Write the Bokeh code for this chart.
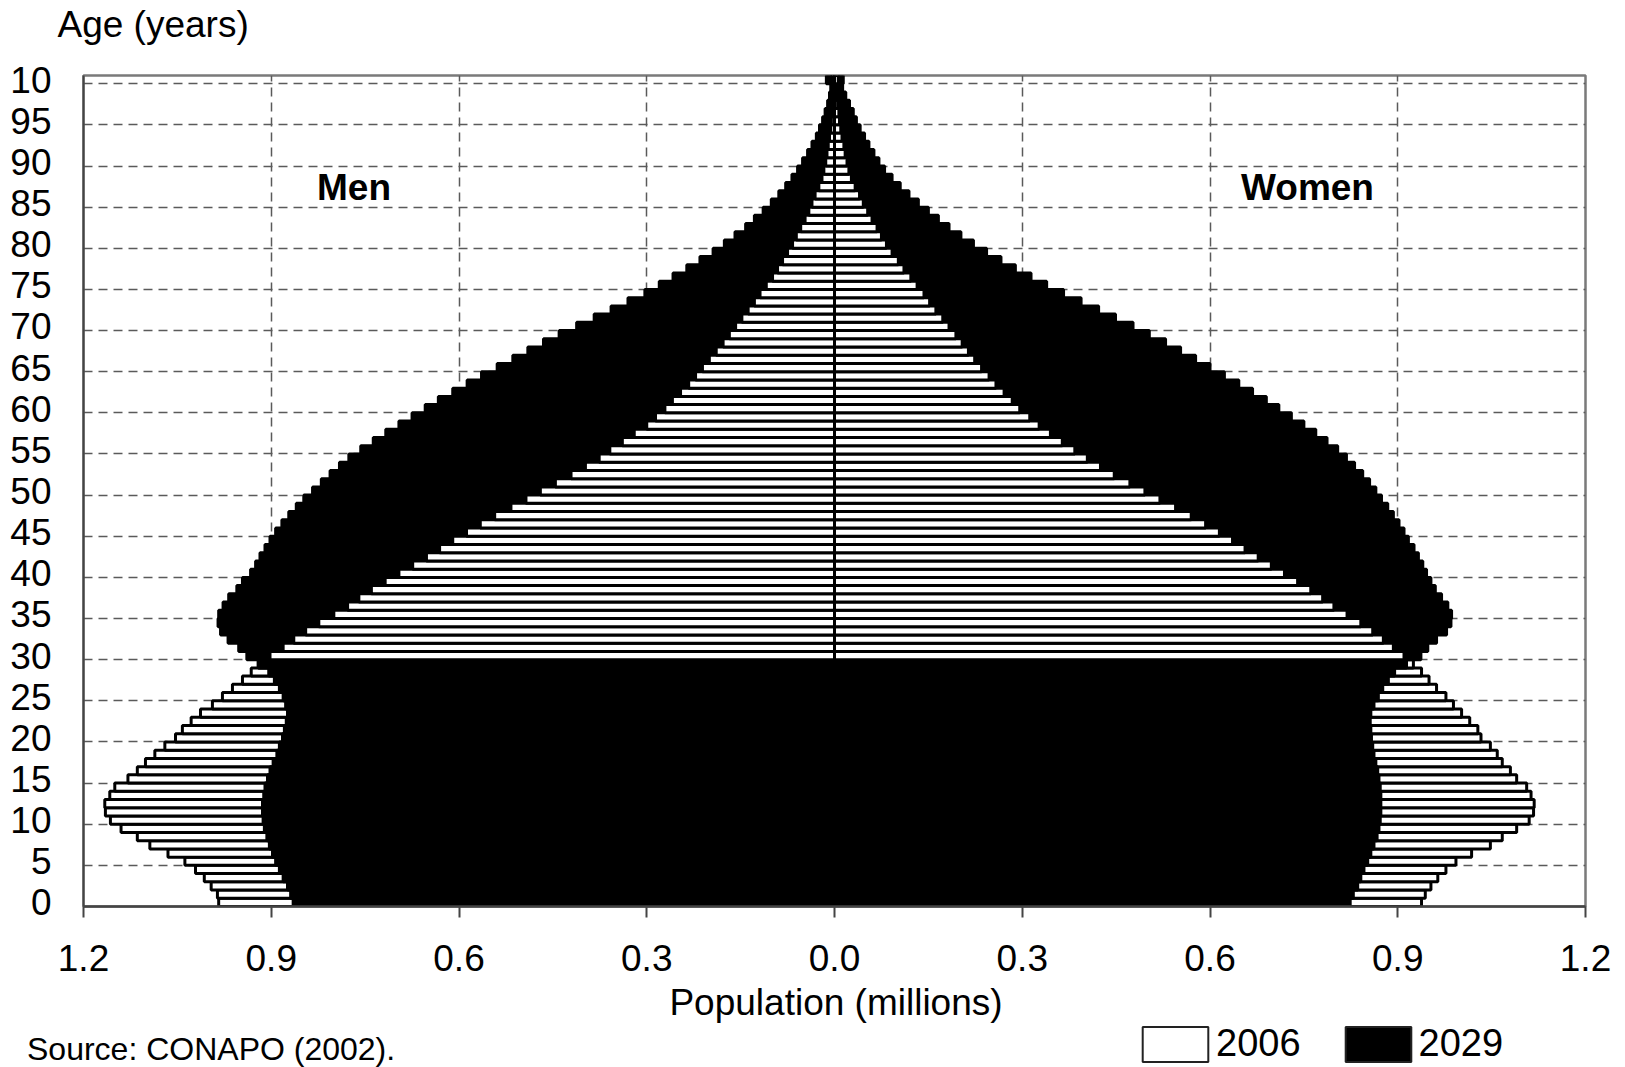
import numpy as np
from bokeh.plotting import figure
from bokeh.layouts import column
from bokeh.models import ColumnDataSource, FixedTicker, Label, Legend, LegendItem, Range1d
from bokeh.embed import file_html
from bokeh.resources import INLINE

# ---------------- data (population in millions, single ages 0..100) ----------------
ages = list(range(0, 101))

men_2006 = [0.984, 0.986, 0.996, 1.007, 1.021, 1.038, 1.065, 1.094, 1.114, 1.140,
            1.157, 1.165, 1.166, 1.158, 1.150, 1.129, 1.114, 1.101, 1.086, 1.070,
            1.053, 1.042, 1.028, 1.013, 0.994, 0.978, 0.962, 0.946, 0.932, 0.921,
            0.902, 0.881, 0.864, 0.845, 0.824, 0.800, 0.778, 0.760, 0.740, 0.718,
            0.696, 0.674, 0.652, 0.631, 0.610, 0.588, 0.566, 0.543, 0.517, 0.493,
            0.470, 0.446, 0.421, 0.398, 0.376, 0.359, 0.339, 0.320, 0.300, 0.286,
            0.271, 0.259, 0.246, 0.233, 0.222, 0.211, 0.200, 0.189, 0.178, 0.168,
            0.158, 0.148, 0.138, 0.128, 0.119, 0.109, 0.099, 0.091, 0.083, 0.075,
            0.067, 0.061, 0.054, 0.047, 0.041, 0.036, 0.031, 0.025, 0.020, 0.017,
            0.014, 0.012, 0.010, 0.008, 0.006, 0.005, 0.004, 0.003, 0.002, 0.002,
            0.004]

men_2029 = [0.865, 0.869, 0.874, 0.881, 0.887, 0.893, 0.898, 0.903, 0.907, 0.911,
            0.913, 0.914, 0.914, 0.912, 0.910, 0.906, 0.902, 0.897, 0.891, 0.887,
            0.882, 0.879, 0.876, 0.874, 0.877, 0.881, 0.887, 0.895, 0.904, 0.920,
            0.939, 0.952, 0.969, 0.981, 0.985, 0.984, 0.977, 0.968, 0.955, 0.946,
            0.933, 0.925, 0.918, 0.910, 0.902, 0.893, 0.883, 0.872, 0.860, 0.848,
            0.834, 0.820, 0.806, 0.791, 0.776, 0.757, 0.737, 0.717, 0.696, 0.675,
            0.654, 0.633, 0.610, 0.587, 0.564, 0.539, 0.514, 0.490, 0.465, 0.440,
            0.412, 0.384, 0.357, 0.330, 0.303, 0.280, 0.258, 0.236, 0.215, 0.194,
            0.176, 0.159, 0.142, 0.128, 0.114, 0.101, 0.089, 0.078, 0.068, 0.059,
            0.051, 0.043, 0.036, 0.029, 0.024, 0.019, 0.015, 0.011, 0.008, 0.006,
            0.013]

women_2006 = [0.938, 0.944, 0.953, 0.964, 0.977, 0.993, 1.018, 1.048, 1.067, 1.090,
              1.110, 1.117, 1.118, 1.113, 1.106, 1.090, 1.080, 1.067, 1.059, 1.048,
              1.033, 1.028, 1.015, 1.002, 0.989, 0.977, 0.962, 0.950, 0.938, 0.925,
              0.910, 0.893, 0.877, 0.860, 0.841, 0.819, 0.798, 0.780, 0.761, 0.740,
              0.719, 0.698, 0.677, 0.656, 0.636, 0.615, 0.593, 0.570, 0.545, 0.520,
              0.496, 0.472, 0.447, 0.425, 0.404, 0.384, 0.364, 0.345, 0.327, 0.312,
              0.296, 0.284, 0.271, 0.258, 0.247, 0.235, 0.224, 0.214, 0.204, 0.194,
              0.183, 0.173, 0.162, 0.152, 0.143, 0.132, 0.122, 0.111, 0.102, 0.092,
              0.083, 0.075, 0.068, 0.060, 0.053, 0.046, 0.040, 0.033, 0.027, 0.023,
              0.020, 0.017, 0.015, 0.012, 0.010, 0.008, 0.007, 0.005, 0.004, 0.003,
              0.006]

women_2029 = [0.824, 0.829, 0.836, 0.841, 0.846, 0.852, 0.857, 0.862, 0.867, 0.870,
              0.872, 0.873, 0.873, 0.873, 0.872, 0.870, 0.868, 0.865, 0.862, 0.860,
              0.858, 0.857, 0.856, 0.857, 0.862, 0.869, 0.876, 0.885, 0.895, 0.914,
              0.937, 0.948, 0.962, 0.978, 0.985, 0.986, 0.980, 0.970, 0.960, 0.953,
              0.946, 0.940, 0.933, 0.926, 0.917, 0.910, 0.902, 0.893, 0.884, 0.874,
              0.865, 0.855, 0.844, 0.831, 0.818, 0.804, 0.787, 0.769, 0.750, 0.730,
              0.710, 0.690, 0.668, 0.646, 0.623, 0.600, 0.577, 0.553, 0.529, 0.503,
              0.477, 0.449, 0.422, 0.394, 0.366, 0.339, 0.314, 0.289, 0.266, 0.243,
              0.222, 0.202, 0.183, 0.166, 0.150, 0.134, 0.119, 0.105, 0.092, 0.080,
              0.071, 0.063, 0.055, 0.048, 0.041, 0.035, 0.030, 0.024, 0.018, 0.013,
              0.014]

series_names = ["2006", "2029"]
series_fill = ["white", "black"]

x_ticks = [-1.2, -0.9, -0.6, -0.3, 0.0, 0.3, 0.6, 0.9, 1.2]
x_tick_labels = ["1.2", "0.9", "0.6", "0.3", "0.0", "0.3", "0.6", "0.9", "1.2"]
y_ticks = [0, 5, 10, 15, 20, 25, 30, 35, 40, 45, 50, 55, 60, 65, 70, 75, 80, 85, 90, 95, 100]
y_tick_labels = ["0", "5", "10", "15", "20", "25", "30", "35", "40", "45", "50",
                 "55", "60", "65", "70", "75", "80", "85", "90", "95", "10"]

# ---------------- bar layers: the longer bar of each age goes behind ----------------
age_arr = np.array(ages, dtype=float)


def layers(v06, v29, sign):
    v06 = np.asarray(v06)
    v29 = np.asarray(v29)
    back06 = v06 >= v29
    back_val = np.where(back06, v06, v29)
    front_val = np.where(back06, v29, v06)
    back_col = np.where(back06, series_fill[0], series_fill[1])
    front_col = np.where(back06, series_fill[1], series_fill[0])
    zero = np.zeros_like(back_val)
    if sign < 0:
        back = dict(y=age_arr, left=-back_val, right=zero, fill=back_col)
        front = dict(y=age_arr, left=-front_val, right=zero, fill=front_col)
    else:
        back = dict(y=age_arr, left=zero, right=back_val, fill=back_col)
        front = dict(y=age_arr, left=zero, right=front_val, fill=front_col)
    return back, front


mb, mf = layers(men_2006, men_2029, -1)
wb, wf = layers(women_2006, women_2029, 1)
back_src = ColumnDataSource({k: np.concatenate([mb[k], wb[k]]) for k in mb})
front_src = ColumnDataSource({k: np.concatenate([mf[k], wf[k]]) for k in mf})

FONT = "Liberation Sans"
W = 1625
TOP_H = 45
MAIN_H = 936
BOT_H = 86


def no_align(f):
    try:
        f.frame_align = False
    except Exception:
        pass


def blank_fig(h):
    f = figure(width=W, height=h, x_range=Range1d(0, W), y_range=Range1d(h, 0),
               x_axis_type=None, y_axis_type=None, output_backend="svg",
               toolbar_location=None, min_border=0, outline_line_color=None,
               background_fill_color="white", border_fill_color="white")
    f.xgrid.visible = False
    f.ygrid.visible = False
    no_align(f)
    return f


# ---------------- top strip: axis title ----------------
p_top = blank_fig(TOP_H)
p_top.add_layout(Label(x=57, y=23.5, text="Age (years)", text_font=FONT, text_font_size="37px",
                       text_color="black", text_align="left", text_baseline="middle"))

# ---------------- main chart ----------------
p = figure(width=W, height=MAIN_H, x_range=(-1.2, 1.2), y_range=(-0.5, 100.5),
           output_backend="svg", toolbar_location=None,
           min_border_left=83, min_border_right=40, min_border_top=30, min_border_bottom=75,
           background_fill_color="white", border_fill_color="white")
no_align(p)

p.outline_line_color = "#7a7a7a"
p.outline_line_width = 2.5

p.xgrid.ticker = FixedTicker(ticks=[-0.9, -0.6, -0.3, 0.3, 0.6, 0.9])
p.ygrid.ticker = FixedTicker(ticks=[y - 0.5 for y in y_ticks[1:]])
for g in (p.xgrid, p.ygrid):
    g.grid_line_color = "#5a5a5a"
    g.grid_line_width = 1.5
    g.grid_line_dash = "9 6"

p.hbar(y="y", left="left", right="right", height=1.0, fill_color="fill",
       line_color="black", line_width=3, source=back_src)
p.hbar(y="y", left="left", right="right", height=1.0, fill_color="fill",
       line_color="black", line_width=3, source=front_src)

xa = p.xaxis[0]
xa.ticker = FixedTicker(ticks=x_ticks)
xa.major_label_overrides = {t: s for t, s in zip(x_ticks, x_tick_labels)}
xa.minor_tick_line_color = None
xa.major_tick_out = 11
xa.major_tick_in = 0
xa.major_tick_line_color = "#444444"
xa.major_tick_line_width = 2
xa.axis_line_color = "#444444"
xa.axis_line_width = 2.5
xa.major_label_text_font = FONT
xa.major_label_text_font_size = "37px"
xa.major_label_text_color = "black"
xa.major_label_standoff = 27

ya = p.yaxis[0]
ya.ticker = FixedTicker(ticks=y_ticks)
ya.major_label_overrides = {t: s for t, s in zip(y_ticks, y_tick_labels)}
ya.minor_tick_line_color = None
ya.major_tick_out = 0
ya.major_tick_in = 0
ya.axis_line_color = "#444444"
ya.axis_line_width = 2
ya.major_label_text_font = FONT
ya.major_label_text_font_size = "37px"
ya.major_label_text_color = "black"
ya.major_label_standoff = 32

p.add_layout(Label(x=-0.7678, y=86.89, text="Men", text_font=FONT, text_font_style="bold",
                   text_font_size="37px", text_color="black",
                   text_align="center", text_baseline="middle"))
p.add_layout(Label(x=0.7558, y=86.89, text="Women", text_font=FONT, text_font_style="bold",
                   text_font_size="37px", text_color="black",
                   text_align="center", text_baseline="middle"))

# ---------------- bottom strip: x title, source, legend ----------------
p2 = blank_fig(BOT_H)
p2.add_layout(Label(x=835.5, y=21, text="Population (millions)", text_font=FONT,
                    text_font_size="37px", text_color="black",
                    text_align="center", text_baseline="middle"))
p2.add_layout(Label(x=26.5, y=67, text="Source: CONAPO (2002).", text_font=FONT,
                    text_font_size="32px", text_color="black",
                    text_align="left", text_baseline="middle"))

nan = float("nan")
r06 = p2.hbar(y=[nan], left=[nan], right=[nan], height=1.0, fill_color=series_fill[0],
              line_color="#222222", line_width=2)
r29 = p2.hbar(y=[nan], left=[nan], right=[nan], height=1.0, fill_color=series_fill[1],
              line_color="#222222", line_width=2)
legend = Legend(items=[LegendItem(label=series_names[0], renderers=[r06]),
                       LegendItem(label=series_names[1], renderers=[r29])],
                location=(1134, 1.4), orientation="horizontal",
                glyph_width=82, glyph_height=44, label_height=44,
                label_standoff=0, spacing=36, padding=0, margin=0,
                border_line_alpha=0, background_fill_alpha=0,
                label_text_font=FONT, label_text_font_size="38px",
                label_text_color="black")
p2.add_layout(legend, "center")

layout = column(p_top, p, p2, spacing=0)
open("out.html", "w").write(file_html(layout, INLINE))
